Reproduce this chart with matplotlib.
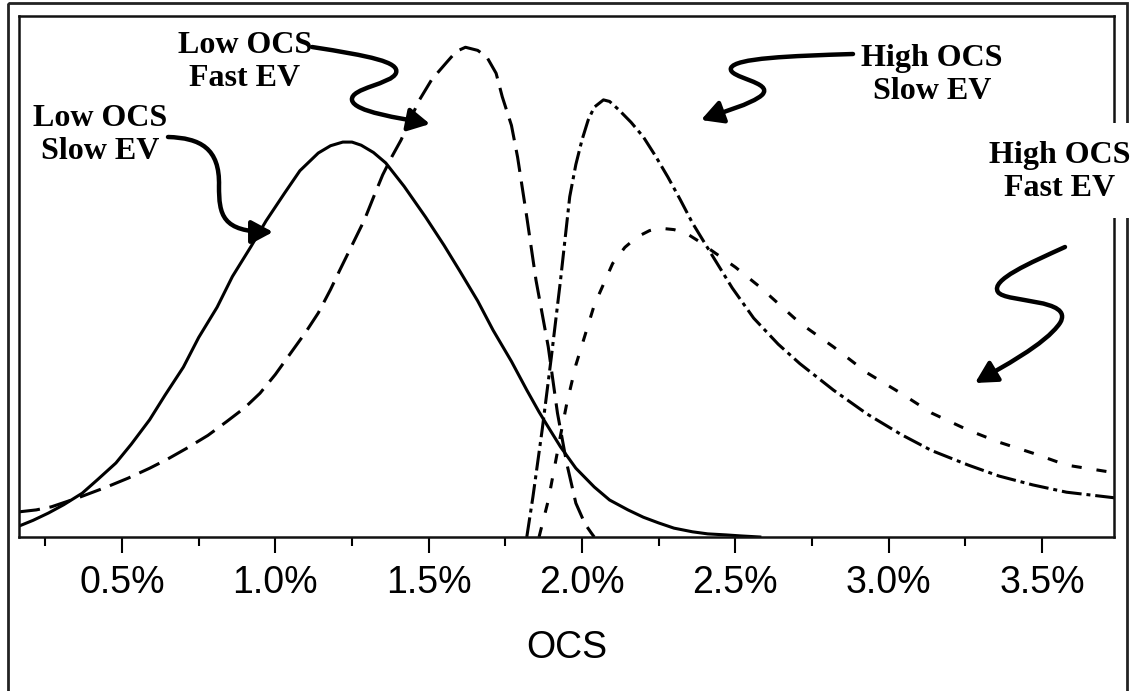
import matplotlib
matplotlib.use("Agg")
import matplotlib.pyplot as plt
from matplotlib.patches import Rectangle, FancyArrowPatch
from matplotlib.path import Path
from matplotlib.transforms import Affine2D
from matplotlib.ticker import FixedLocator, FixedFormatter

# OCS (%) vs relative frequency
low_slow_x = [0.16, 0.21, 0.26, 0.31, 0.37, 0.42, 0.48, 0.53, 0.59, 0.64, 0.70, 0.75, 0.81, 0.86,
              0.92, 0.97, 1.03, 1.08, 1.14, 1.18, 1.22, 1.25, 1.28, 1.32, 1.36, 1.42, 1.49, 1.55,
              1.60, 1.66, 1.71, 1.77, 1.82, 1.86, 1.89, 1.93, 1.98, 2.04, 2.09, 2.15, 2.20, 2.25,
              2.30, 2.36, 2.41, 2.47, 2.52, 2.58]
low_slow_y = [0.020, 0.032, 0.046, 0.062, 0.084, 0.110, 0.142, 0.178, 0.225, 0.272, 0.326, 0.383,
              0.441, 0.500, 0.557, 0.607, 0.660, 0.703, 0.737, 0.751, 0.758, 0.758, 0.752, 0.738,
              0.718, 0.673, 0.614, 0.560, 0.512, 0.453, 0.397, 0.337, 0.282, 0.240, 0.211, 0.173,
              0.132, 0.096, 0.071, 0.052, 0.038, 0.027, 0.017, 0.010, 0.006, 0.004, 0.002, 0.0]

low_fast_x = [0.16, 0.22, 0.27, 0.36, 0.45, 0.52, 0.59, 0.65, 0.71, 0.78, 0.84, 0.90, 0.95, 1.00,
              1.05, 1.10, 1.14, 1.18, 1.21, 1.25, 1.29, 1.32, 1.35, 1.38, 1.41, 1.44, 1.47, 1.51,
              1.56, 1.59, 1.62, 1.66, 1.69, 1.72, 1.74, 1.77, 1.79, 1.82, 1.85, 1.89, 1.92, 1.95,
              1.98, 2.01, 2.03, 2.04]
low_fast_y = [0.048, 0.052, 0.058, 0.076, 0.096, 0.113, 0.132, 0.150, 0.170, 0.195, 0.221, 0.248,
              0.276, 0.312, 0.353, 0.394, 0.430, 0.475, 0.512, 0.560, 0.608, 0.652, 0.695, 0.730,
              0.762, 0.802, 0.839, 0.878, 0.912, 0.932, 0.940, 0.934, 0.921, 0.890, 0.845, 0.790,
              0.729, 0.614, 0.493, 0.365, 0.238, 0.142, 0.065, 0.025, 0.008, 0.0]

high_slow_x = [1.82, 1.84, 1.87, 1.90, 1.93, 1.96, 1.98, 2.00, 2.02, 2.04, 2.07, 2.09, 2.12, 2.16,
               2.20, 2.24, 2.28, 2.32, 2.36, 2.42, 2.49, 2.56, 2.64, 2.71, 2.82, 2.93, 3.04, 3.14,
               3.26, 3.36, 3.47, 3.58, 3.74]
high_slow_y = [0.0, 0.077, 0.205, 0.345, 0.493, 0.653, 0.715, 0.762, 0.800, 0.825, 0.839, 0.836,
               0.820, 0.796, 0.768, 0.731, 0.691, 0.648, 0.603, 0.545, 0.478, 0.420, 0.370, 0.333,
               0.282, 0.236, 0.197, 0.166, 0.138, 0.117, 0.100, 0.086, 0.075]

high_fast_x = [1.86, 1.89, 1.93, 1.95, 1.98, 2.04, 2.10, 2.14, 2.18, 2.22, 2.25, 2.30, 2.34, 2.38,
               2.42, 2.50, 2.58, 2.71, 2.82, 2.93, 3.04, 3.14, 3.26, 3.36, 3.47, 3.58, 3.74]
high_fast_y = [0.0, 0.070, 0.195, 0.255, 0.330, 0.445, 0.525, 0.556, 0.576, 0.588, 0.593, 0.590,
               0.583, 0.568, 0.551, 0.518, 0.480, 0.411, 0.365, 0.315, 0.276, 0.238, 0.205, 0.182,
               0.161, 0.138, 0.123]

major_ticks = [0.5, 1.0, 1.5, 2.0, 2.5, 3.0, 3.5]
major_labels = ["0.5%", "1.0%", "1.5%", "2.0%", "2.5%", "3.0%", "3.5%"]
minor_ticks = [0.25, 0.75, 1.25, 1.75, 2.25, 2.75, 3.25]

W, H = 1135, 691
fig = plt.figure(figsize=(W / 100, H / 100), dpi=100)
ax = fig.add_axes([19 / W, 1 - 537 / H, (1114 - 19) / W, (537 - 16) / H])

lw = 2.2
ax.plot(low_slow_x, low_slow_y, color="black", lw=lw, solid_joinstyle="round")
ax.plot(low_fast_x, low_fast_y, color="black", lw=lw, linestyle=(0, (7.3, 3.2)))
ax.plot(high_slow_x, high_slow_y, color="black", lw=lw, linestyle=(0, (6.5, 1.6, 1.3, 1.6)))
ax.plot(high_fast_x, high_fast_y, color="black", lw=lw, linestyle=(0, (3.3, 4.9)))

ax.set_xlim(0.164, 3.735)
ax.set_ylim(0, 1)
ax.set_yticks([])
ax.xaxis.set_major_locator(FixedLocator(major_ticks))
ax.xaxis.set_major_formatter(FixedFormatter(major_labels))
ax.xaxis.set_minor_locator(FixedLocator(minor_ticks))
ax.tick_params(axis="x", which="major", length=11.5, width=1.5, pad=8.5,
               labelsize=27, direction="out")
ax.tick_params(axis="x", which="minor", length=6.5, width=1.5, direction="out")
for lab in ax.get_xticklabels():
    lab.set_fontfamily("Liberation Sans")
ax.set_xlabel("OCS", fontsize=27, fontfamily="Liberation Sans", labelpad=21)
for sp in ax.spines.values():
    sp.set_linewidth(1.8)
    sp.set_color("#111111")

# annotations are placed in image pixel coordinates (origin top-left)
px = Affine2D().scale(1 / W, -1 / H).translate(0, 1) + fig.transFigure

fig.add_artist(Rectangle((8, 3), 1119, 720, transform=px, fill=False,
                         lw=2.0, edgecolor="#222222", zorder=1))
fig.add_artist(Rectangle((985, 123), 160, 95, transform=px, facecolor="white",
                         edgecolor="none", zorder=2))

label_style = dict(transform=px, ha="center", va="center", fontsize=23,
                   fontfamily="Liberation Serif", fontweight="bold",
                   linespacing=1.2, zorder=5)
fig.text(245, 62, "Low OCS\nFast EV", **label_style)
fig.text(100, 135, "Low OCS\nSlow EV", **label_style)
fig.text(932, 75, "High OCS\nSlow EV", **label_style)
fig.text(1060, 172, "High OCS\nFast EV", **label_style)

C = Path.CURVE4
arrows = [
    [(168, 137), (200, 138), (220, 148), (219, 186), (219, 215), (222, 232), (273, 232)],
    [(312, 47), (370, 56), (400, 62), (396, 73), (392, 84), (350, 88), (352, 100),
     (354, 112), (400, 118), (430, 124)],
    [(853, 54), (790, 56), (735, 58), (731, 68), (727, 78), (775, 82), (762, 95),
     (752, 104), (720, 113), (701, 120)],
    [(1065, 247), (1030, 263), (990, 280), (998, 292), (1005, 303), (1075, 298), (1060, 323),
     (1045, 345), (1000, 368), (975, 383)],
]
for verts in arrows:
    codes = [Path.MOVETO] + [C] * (len(verts) - 1)
    arr = FancyArrowPatch(path=Path(verts, codes), transform=px,
                          arrowstyle="-|>,head_length=0.65,head_width=0.35",
                          mutation_scale=20, lw=3.2, color="black", zorder=6)
    fig.add_artist(arr)

fig.savefig("out.png", dpi=100)
